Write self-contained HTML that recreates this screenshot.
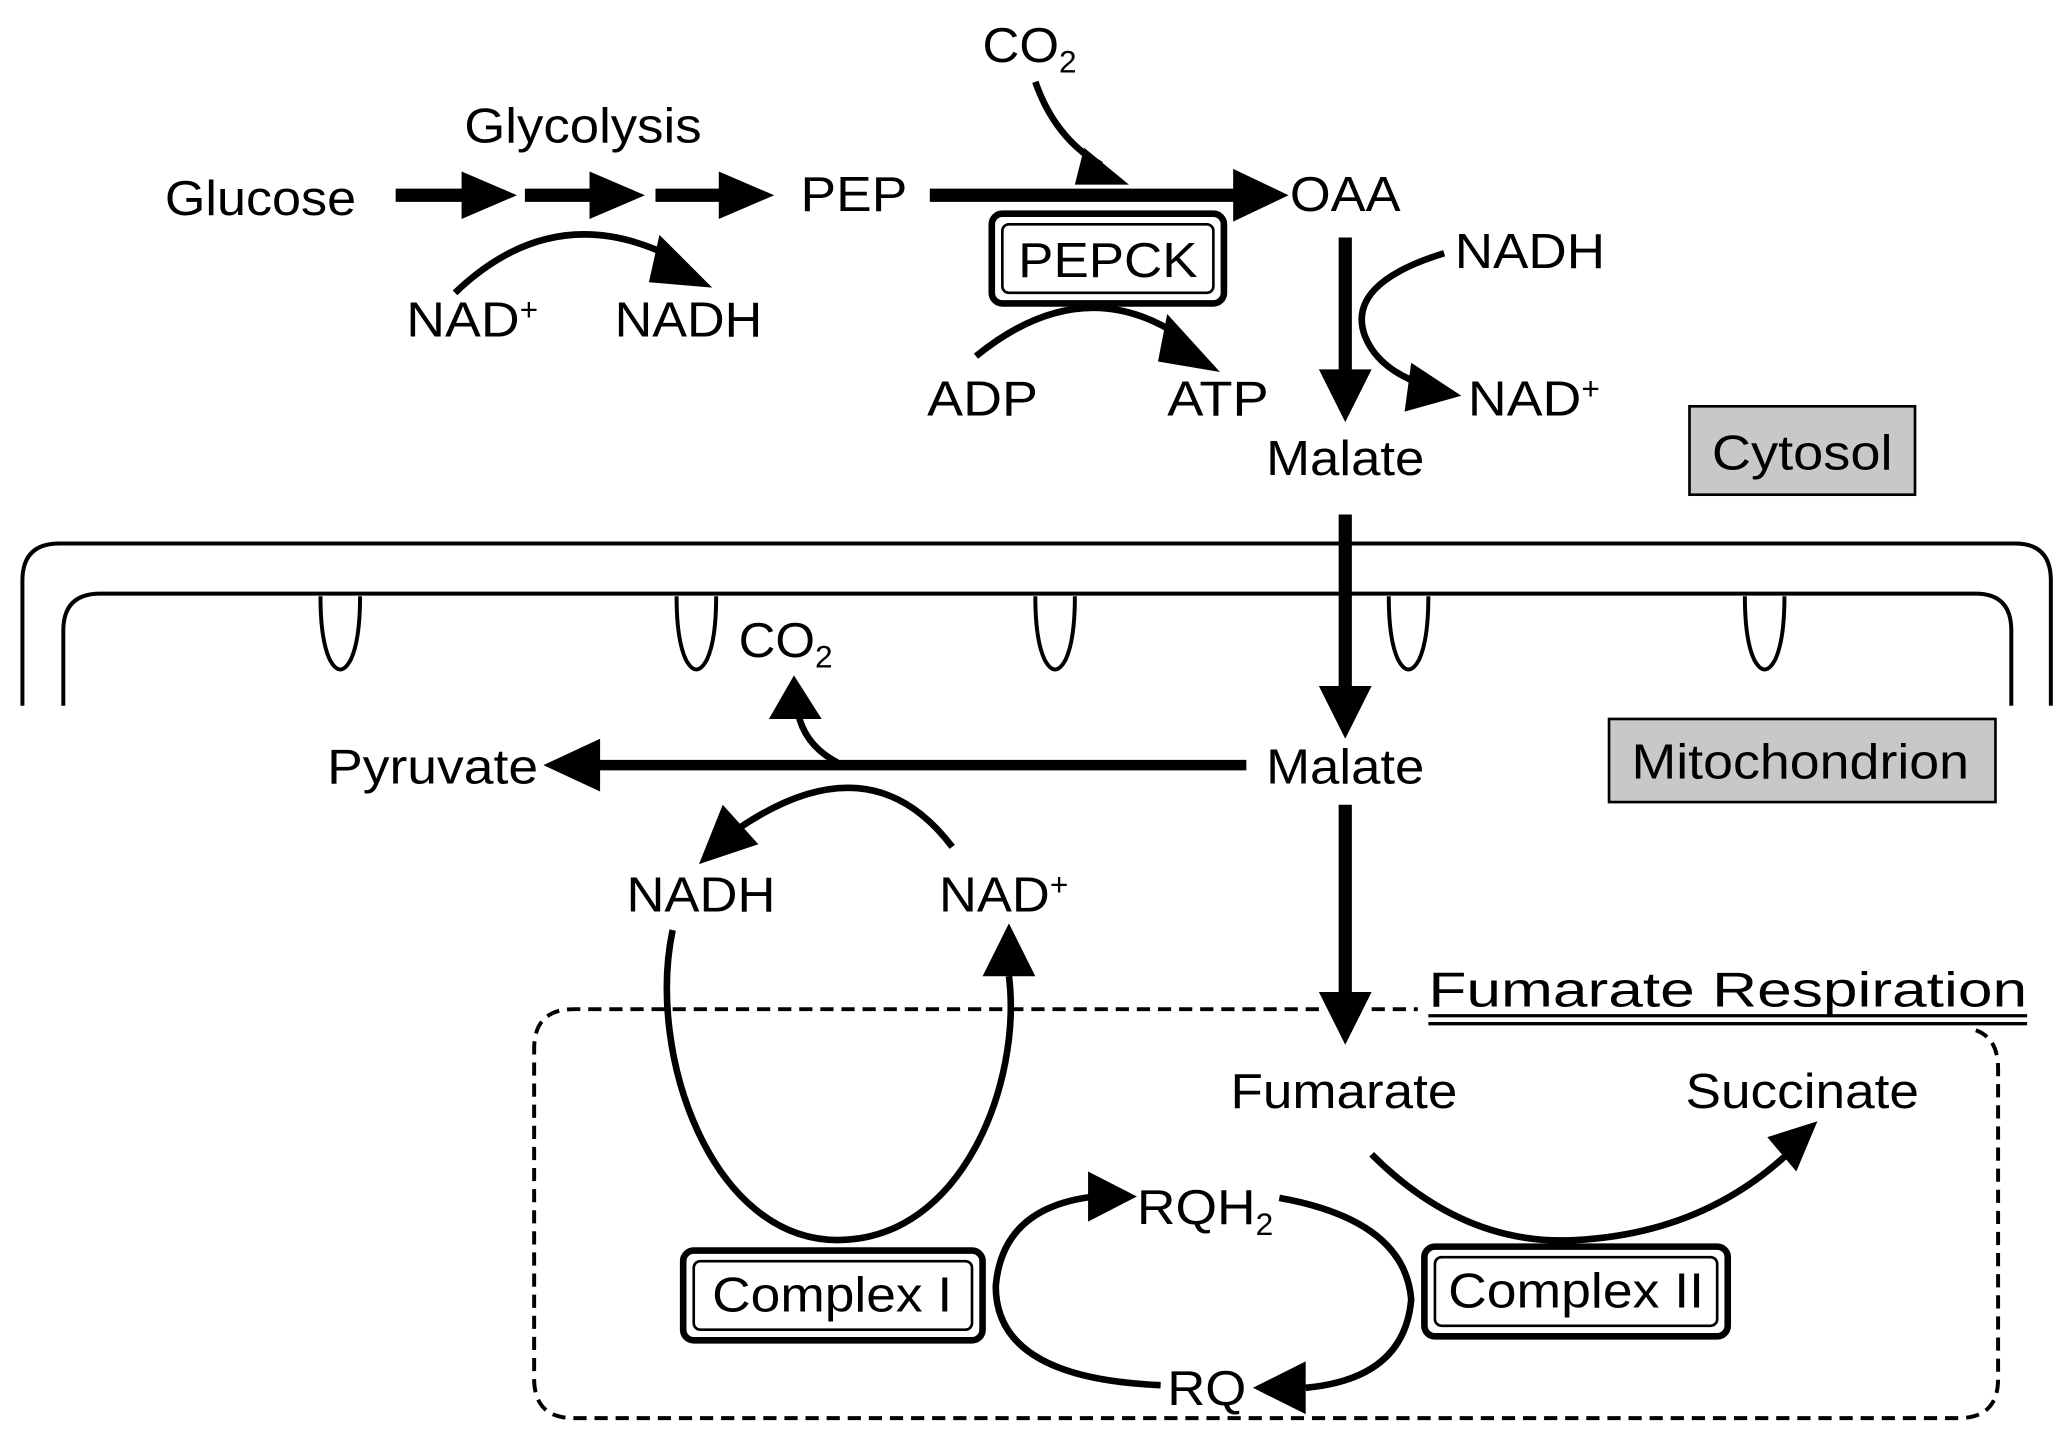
<!DOCTYPE html>
<html><head><meta charset="utf-8"><style>
html,body{margin:0;padding:0;background:#fff}
svg{display:block}
text{font-family:"Liberation Sans",sans-serif;font-size:37px;fill:#000}
</style></head><body>
<svg width="2068" height="1430" viewBox="0 0 1568 1084" preserveAspectRatio="none" xmlns="http://www.w3.org/2000/svg">
<g fill="none" stroke="#000">
<line x1="300" y1="148" x2="355" y2="148" stroke-width="10"/>
<polygon points="350,130 392,148 350,166" fill="#000" stroke="none"/>
<line x1="398" y1="148" x2="452" y2="148" stroke-width="10"/>
<polygon points="447,130 489,148 447,166" fill="#000" stroke="none"/>
<line x1="497" y1="148" x2="550" y2="148" stroke-width="10"/>
<polygon points="545,130 587,148 545,166" fill="#000" stroke="none"/>
<line x1="705" y1="148" x2="940" y2="148" stroke-width="10"/>
<polygon points="935,128 977,148 935,168" fill="#000" stroke="none"/>
<path d="M785,62 Q800,105 835,125" stroke-width="5"/>
<polygon points="822,112 856,140 815,140" fill="#000" stroke="none"/>
<path d="M345,222 Q420,150 510,195" stroke-width="5"/>
<polygon points="500,178 540,218 492,214" fill="#000" stroke="none"/>
<path d="M740,270 Q820,205 895,255" stroke-width="5"/>
<polygon points="885,238 925,282 878,274" fill="#000" stroke="none"/>
<rect x="752" y="162" width="176" height="68" rx="8" stroke-width="5"/>
<rect x="760" y="170" width="160" height="52" rx="5" stroke-width="2"/>
<line x1="1020" y1="180" x2="1020" y2="290" stroke-width="10"/>
<polygon points="1000,280 1040,280 1020,320" fill="#000" stroke="none"/>
<path d="M1095,192 Q1020,215 1035,255 Q1045,280 1080,292" stroke-width="5"/>
<polygon points="1070,275 1108,300 1065,312" fill="#000" stroke="none"/>
<path d="M17,535 V440 Q17,412 45,412 H1528 Q1555,412 1555,440 V535" stroke-width="3"/>
<path d="M48,535 V478 Q48,450 76,450 H1498 Q1525,450 1525,478 V535" stroke-width="3"/>
<path d="M243,452 Q243,485 250,500 Q258,515 266,500 Q273,485 273,452" stroke-width="3" fill="#fff"/>
<path d="M513,452 Q513,485 520,500 Q528,515 536,500 Q543,485 543,452" stroke-width="3" fill="#fff"/>
<path d="M785,452 Q785,485 792,500 Q800,515 808,500 Q815,485 815,452" stroke-width="3" fill="#fff"/>
<path d="M1053,452 Q1053,485 1060,500 Q1068,515 1076,500 Q1083,485 1083,452" stroke-width="3" fill="#fff"/>
<path d="M1323,452 Q1323,485 1330,500 Q1338,515 1346,500 Q1353,485 1353,452" stroke-width="3" fill="#fff"/>
<line x1="1020" y1="390" x2="1020" y2="525" stroke-width="10"/>
<polygon points="1000,520 1040,520 1020,560" fill="#000" stroke="none"/>
<line x1="945" y1="580" x2="450" y2="580" stroke-width="8"/>
<polygon points="455,560 412,580 455,600" fill="#000" stroke="none"/>
<path d="M635,578 Q610,565 605,540" stroke-width="5"/>
<polygon points="583,545 602,512 623,545" fill="#000" stroke="none"/>
<path d="M722,642 Q660,560 560,628" stroke-width="5"/>
<polygon points="548,610 530,655 575,640" fill="#000" stroke="none"/>
<path d="M510,705 C490,800 540,940 635,940 C730,940 775,820 765,740" stroke-width="5"/>
<polygon points="745,740 765,700 785,740" fill="#000" stroke="none"/>
<line x1="1020" y1="610" x2="1020" y2="755" stroke-width="10"/>
<polygon points="1000,752 1040,752 1020,792" fill="#000" stroke="none"/>
<path d="M1000,765 H435 Q405,765 405,795 V1045 Q405,1075 435,1075 H1485 Q1515,1075 1515,1045 V810 Q1515,785 1495,780" stroke-width="3" stroke-dasharray="10,6"/>
<line x1="1040" y1="765" x2="1075" y2="765" stroke-width="3" stroke-dasharray="10,6"/>
<line x1="1083" y1="770" x2="1537" y2="770" stroke-width="2.5"/>
<line x1="1083" y1="776" x2="1537" y2="776" stroke-width="2.5"/>
<path d="M1040,875 Q1110,945 1195,940 Q1290,935 1355,875" stroke-width="5"/>
<polygon points="1340,862 1378,850 1362,888" fill="#000" stroke="none"/>
<path d="M880,1050 Q755,1045 755,975 Q760,915 830,907" stroke-width="5"/>
<polygon points="825,888 862,907 825,926" fill="#000" stroke="none"/>
<path d="M970,908 Q1065,925 1070,985 Q1065,1045 990,1052" stroke-width="5"/>
<polygon points="990,1032 950,1052 990,1072" fill="#000" stroke="none"/>
<rect x="518" y="948" width="227" height="68" rx="8" stroke-width="5" fill="#fff"/>
<rect x="526" y="956" width="211" height="52" rx="5" stroke-width="2"/>
<rect x="1080" y="945" width="230" height="68" rx="8" stroke-width="5" fill="#fff"/>
<rect x="1088" y="953" width="214" height="52" rx="5" stroke-width="2"/>
<rect x="1281" y="308" width="171" height="67" fill="#c8c8c8" stroke-width="2"/>
<rect x="1220" y="545" width="293" height="63" fill="#c8c8c8" stroke-width="2"/>
</g>
<g>
<text x="125" y="163" textLength="145" lengthAdjust="spacingAndGlyphs">Glucose</text>
<text x="352" y="108" textLength="180" lengthAdjust="spacingAndGlyphs">Glycolysis</text>
<text x="607" y="160" textLength="81" lengthAdjust="spacingAndGlyphs">PEP</text>
<text x="745" y="47"><tspan textLength="58" lengthAdjust="spacingAndGlyphs">CO</tspan><tspan font-size="24" dy="8">2</tspan></text>
<text x="978" y="160" textLength="84" lengthAdjust="spacingAndGlyphs">OAA</text>
<text x="772" y="210" textLength="136" lengthAdjust="spacingAndGlyphs">PEPCK</text>
<text x="308" y="255"><tspan textLength="86" lengthAdjust="spacingAndGlyphs">NAD</tspan><tspan font-size="24" dy="-12">+</tspan></text>
<text x="466" y="255" textLength="112" lengthAdjust="spacingAndGlyphs">NADH</text>
<text x="703" y="315" textLength="84" lengthAdjust="spacingAndGlyphs">ADP</text>
<text x="885" y="315" textLength="77" lengthAdjust="spacingAndGlyphs">ATP</text>
<text x="1103" y="203" textLength="114" lengthAdjust="spacingAndGlyphs">NADH</text>
<text x="1113" y="315"><tspan textLength="86" lengthAdjust="spacingAndGlyphs">NAD</tspan><tspan font-size="24" dy="-12">+</tspan></text>
<text x="960" y="360" textLength="120" lengthAdjust="spacingAndGlyphs">Malate</text>
<text x="1298" y="356" textLength="137" lengthAdjust="spacingAndGlyphs">Cytosol</text>
<text x="1237" y="590" textLength="256" lengthAdjust="spacingAndGlyphs">Mitochondrion</text>
<text x="960" y="594" textLength="120" lengthAdjust="spacingAndGlyphs">Malate</text>
<text x="248" y="594" textLength="160" lengthAdjust="spacingAndGlyphs">Pyruvate</text>
<text x="560" y="498"><tspan textLength="58" lengthAdjust="spacingAndGlyphs">CO</tspan><tspan font-size="24" dy="8">2</tspan></text>
<text x="475" y="691" textLength="113" lengthAdjust="spacingAndGlyphs">NADH</text>
<text x="712" y="691"><tspan textLength="84" lengthAdjust="spacingAndGlyphs">NAD</tspan><tspan font-size="24" dy="-12">+</tspan></text>
<text x="1083" y="763" font-size="40" textLength="454" lengthAdjust="spacingAndGlyphs">Fumarate Respiration</text>
<text x="933" y="840" textLength="172" lengthAdjust="spacingAndGlyphs">Fumarate</text>
<text x="1278" y="840" textLength="177" lengthAdjust="spacingAndGlyphs">Succinate</text>
<text x="862" y="928"><tspan textLength="90" lengthAdjust="spacingAndGlyphs">RQH</tspan><tspan font-size="24" dy="8">2</tspan></text>
<text x="885" y="1065" textLength="60" lengthAdjust="spacingAndGlyphs">RQ</text>
<text x="540" y="994" textLength="182" lengthAdjust="spacingAndGlyphs">Complex I</text>
<text x="1098" y="991" textLength="194" lengthAdjust="spacingAndGlyphs">Complex II</text>
</g>
</svg>
</body></html>
